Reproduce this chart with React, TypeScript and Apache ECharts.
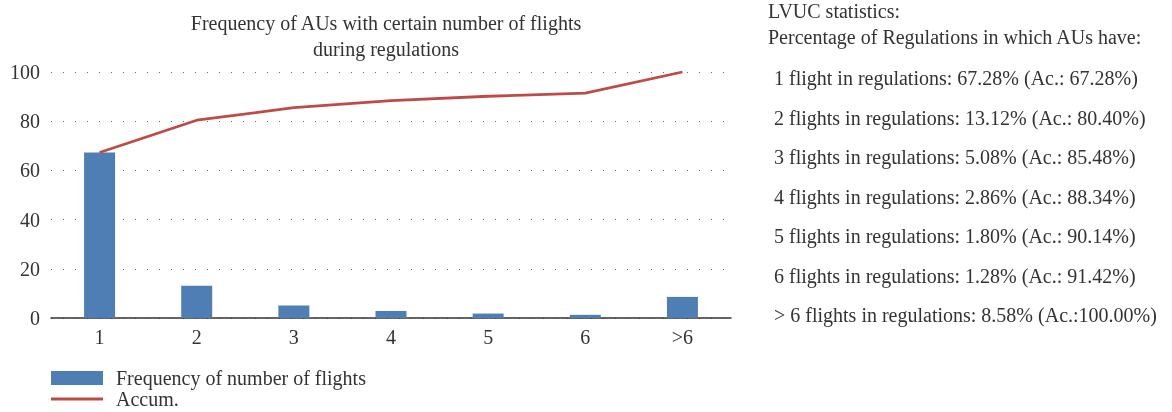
import React, { useEffect, useRef } from "react";
import * as echarts from "echarts";

const categories = ["1", "2", "3", "4", "5", "6", ">6"];
const frequency = [67.28, 13.12, 5.08, 2.86, 1.8, 1.28, 8.58];
const accum = [67.28, 80.4, 85.48, 88.34, 90.14, 91.42, 100.0];
const statNames = ["1 flight", "2 flights", "3 flights", "4 flights", "5 flights", "6 flights", "> 6 flights"];
const yTicks = [0, 20, 40, 60, 80, 100];

const FONT = "'Liberation Serif', 'DejaVu Serif', serif";
const TXT = "#333333";
const FS = 20;

export default function App() {
  const ref = useRef<HTMLDivElement>(null);
  useEffect(() => {
    if (!ref.current) return;
    const chart = echarts.init(ref.current, undefined, { renderer: "svg" });

    const statLines = statNames.map((n, i) => {
      const ac = accum[i].toFixed(2);
      const sep = ac.length > 5 ? "" : " ";
      return `${n} in regulations: ${frequency[i].toFixed(2)}% (Ac.:${sep}${ac}%)`;
    });

    const graphics: any[] = [
      {
        type: "text",
        left: 768,
        top: 1,
        style: { text: "LVUC statistics:", font: `${FS}px ${FONT}`, fill: TXT },
      },
      {
        type: "text",
        left: 768,
        top: 27,
        style: { text: "Percentage of Regulations in which AUs have:", font: `${FS}px ${FONT}`, fill: TXT },
      },
      ...statLines.map((t, i) => ({
        type: "text",
        left: 774,
        top: 68 + i * 39.5,
        style: { text: t, font: `${FS}px ${FONT}`, fill: TXT },
      })),
    ];

    chart.setOption({
      animation: false,
      title: {
        text: "Frequency of AUs with certain number of flights\nduring regulations",
        left: 386,
        top: 10,
        padding: 0,
        textAlign: "center",
        textStyle: { fontFamily: FONT, fontSize: FS, fontWeight: "normal", color: TXT, lineHeight: 26 },
      },
      grid: { left: 51, right: 441, top: 72, bottom: 94 },
      legend: {
        orient: "vertical",
        left: 51,
        top: 368,
        padding: 0,
        itemWidth: 52,
        itemHeight: 14,
        itemGap: 1,
        symbolKeepAspect: true,
        textStyle: { fontFamily: FONT, fontSize: FS, color: TXT, padding: [0, 0, 0, 8] },
        data: [
          { name: "Frequency of number of flights", icon: "rect" },
          { name: "Accum.", icon: "path://M0,0 L52,0 L52,3 L0,3 Z" },
        ],
      },
      xAxis: {
        type: "category",
        data: categories,
        axisLine: { show: true, lineStyle: { color: "#333", width: 1.5 } },
        axisTick: { show: false },
        axisLabel: { fontFamily: FONT, fontSize: FS, color: TXT, margin: 9 },
      },
      yAxis: {
        type: "value",
        min: yTicks[0],
        max: yTicks[yTicks.length - 1],
        interval: 20,
        axisLine: { show: false },
        axisTick: { show: false },
        axisLabel: { fontFamily: FONT, fontSize: FS, color: TXT, margin: 11 },
        splitLine: { show: true, lineStyle: { color: "#666", width: 1, type: [1, 11] } },
      },
      graphic: graphics,
      series: [
        {
          name: "Frequency of number of flights",
          type: "bar",
          data: frequency,
          barWidth: 31,
          itemStyle: { color: "#4F7EB4" },
        },
        {
          name: "Accum.",
          type: "line",
          data: accum,
          symbol: "none",
          lineStyle: { color: "#BE4B48", width: 2.8 },
          itemStyle: { color: "#BE4B48" },
        },
      ],
    });
    return () => chart.dispose();
  }, []);
  return <div ref={ref} style={{ position: "fixed", left: 0, top: 0, width: 1172, height: 412 }} />;
}
